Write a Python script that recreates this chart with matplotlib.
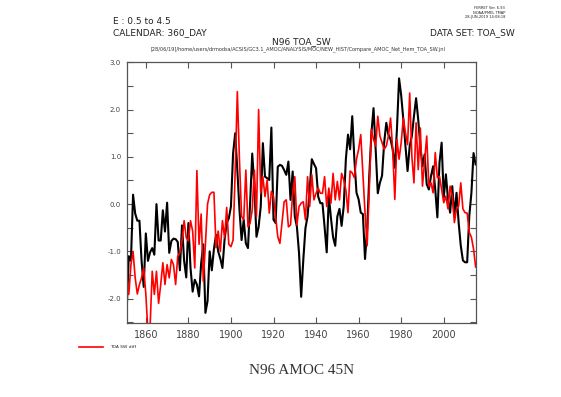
import matplotlib
matplotlib.use("Agg")
import matplotlib.pyplot as plt
import numpy as np

years = np.arange(1851, 2016)

# AMOC 45N (black)
amoc = [
    -2.25, -1.1, -1.2, 0.2, -0.2, -0.35, -0.35, -1.2, -1.75, -0.62,
    -1.2, -1.02, -0.93, -1.07, 0.0, -0.77, -0.77, -0.13, -0.58, 0.03,
    -1.03, -0.78, -0.73, -0.74, -0.8, -1.4, -0.45, -1.2, -1.55, -0.4,
    -1.35, -1.85, -1.6, -1.7, -1.95, -1.25, -0.85, -2.3, -2.05, -1.0,
    -1.4, -0.95, -0.65, -1.0, -1.15, -1.35, -0.75, -0.4, -0.3, -0.05,
    1.07, 1.5, 0.72, -0.12, -0.76, -0.33, -0.83, -0.93, 0.02, 1.07,
    0.37, -0.69, -0.48, -0.05, 1.29, 0.58, 0.55, 0.51, 1.62, -0.33,
    -0.4, 0.79, 0.83, 0.81, 0.72, 0.62, 0.9, 0.09, 0.69, -0.26,
    -0.48, -1.04, -1.96, -1.18, -0.51, -0.26, 0.3, 0.95, 0.85, 0.76,
    0.16, 0.02, 0.02, -0.48, -1.02, 0.17, -0.3, -0.7, -0.88, -0.26,
    -0.1, -0.46, -0.04, 0.95, 1.47, 1.16, 1.86, 0.95, 0.24, 0.1,
    -0.18, -0.21, -1.16, -0.53, 0.6, 1.5, 2.03, 1.16, 0.23, 0.45,
    0.6, 1.3, 1.72, 1.47, 1.37, 1.16, 0.77, 1.58, 2.66, 2.3,
    1.79, 1.23, 0.7, 1.23, 1.44, 1.86, 2.24, 1.79, 1.23, 0.8,
    1.05, 0.42, 0.31, 0.59, 0.8, 0.31, -0.28, 0.88, 1.3, 0.14,
    0.63, 0.1, -0.18, 0.38, -0.25, 0.24, -0.39, -0.88, -1.19, -1.23,
    -1.23, -0.25, 0.24, 1.08, 0.84,
]

# TOA SW diff (red)
toa_sw = [
    -1.56, -1.91, -1.28, -1.0, -1.56, -1.9, -1.7, -1.56, -1.35, -1.9,
    -2.7, -2.6, -1.42, -1.91, -1.42, -2.1, -1.7, -1.24, -1.7, -1.28,
    -1.56, -1.17, -1.28, -1.7, -1.1, -1.03, -0.78, -0.35, -0.71, -0.78,
    -0.35, -0.57, -1.35, 0.71, -0.85, -0.21, -1.63, -0.85, 0.0, 0.2,
    0.25, 0.25, -0.92, -0.57, -1.0, -0.35, -0.71, -0.07, -0.85, -0.9,
    -0.76, 0.71, 2.38, 0.93, -0.26, -0.33, 0.72, -0.48, -0.4, -0.12,
    0.72, -0.26, 2.0, 0.23, 0.58, 0.16, 0.51, -0.19, 0.27, 0.16,
    -0.26, -0.69, -0.83, -0.4, 0.05, 0.09, -0.48, -0.44, 0.23, 0.58,
    -0.44, -0.05, 0.02, 0.05, -0.33, 0.58, -0.05, 0.62, 0.09, 0.23,
    0.34, 0.23, 0.23, 0.58, -0.05, 0.34, 0.02, 0.65, 0.09, 0.48,
    0.09, 0.65, 0.51, 0.3, -0.18, 0.7, 0.66, 0.56, 0.95, 1.16,
    1.47, 0.66, -0.18, -0.88, 0.31, 1.58, 1.37, 1.23, 1.86, 1.44,
    1.3, 1.16, 1.23, 1.44, 1.82, 1.16, 0.1, 1.37, 0.95, 1.3,
    1.82, 1.51, 1.26, 2.35, 1.02, 0.45, 1.72, 0.73, 1.61, 0.38,
    0.91, 1.44, 0.38, 0.45, 0.24, 1.09, 0.56, 0.59, 0.31, 0.03,
    0.17, -0.1, 0.38, 0.17, -0.39, -0.1, -0.04, 0.45, -0.1, -0.18,
    -0.19, -0.6, -0.7, -0.95, -1.33,
]

xticks = [1860, 1880, 1900, 1920, 1940, 1960, 1980, 2000]
yticks = [-2.0, -1.0, 0.0, 1.0, 2.0, 3.0]

fig = plt.figure(figsize=(5.61, 3.97), dpi=100)
ax = fig.add_axes([0.2258, 0.1857, 0.6221, 0.6574])

ax.plot(years, amoc, color="black", linewidth=1.5)
ax.plot(years, toa_sw, color="red", linewidth=1.2)

ax.set_xlim(1851, 2015)
ax.set_ylim(-2.52, 3.0)
ax.set_xticks(xticks)
ax.set_xticklabels([str(y) for y in xticks])
ax.set_yticks(yticks)
ax.set_yticklabels(["%.1f" % v for v in yticks])
ax.set_yticks(np.arange(-2.5, 3.01, 0.5), minor=True)

gray = "#555555"
for s in ax.spines.values():
    s.set_color(gray)
    s.set_linewidth(0.9)
ax.tick_params(axis="both", which="both", direction="in", colors=gray,
               top=True, right=True, length=4, width=0.8)
ax.tick_params(axis="x", labelsize=7, pad=5, labelcolor="#444444")
ax.tick_params(axis="y", labelsize=5, pad=4, labelcolor="#444444")

ax.set_xlabel("N96 AMOC 45N", family="Liberation Serif", fontsize=11,
              color="#333333", labelpad=17)

# header texts
fig.text(113 / 561, 1 - 22 / 397, "E : 0.5 to 4.5", fontsize=6.5, color="#222222", va="center")
fig.text(113 / 561, 1 - 33 / 397, "CALENDAR: 360_DAY", fontsize=6.5, color="#222222", va="center")
fig.text(515 / 561, 1 - 33 / 397, "DATA SET: TOA_SW", fontsize=6.5, color="#222222",
         va="center", ha="right")
fig.text(301 / 561, 1 - 42 / 397, "N96 TOA_SW", fontsize=6.5, color="#222222",
         va="center", ha="center")
fig.text(298 / 561, 1 - 49.5 / 397,
         "[28/06/19]/home/users/drmodsa/ACSIS/GC3.1_AMOC/ANALYSIS/MOC/NEW_HIST/Compare_AMOC_Net_Hem_TOA_SW.jnl",
         fontsize=3.6, color="#333333", va="center", ha="center")
fig.text(505 / 561, 1 - 6 / 397, "FERRET Ver. 6.93\nNOAA/PMEL TMAP\n28-JUN-2019 14:08:18",
         fontsize=2.6, color="#222222", va="top", ha="right", linespacing=1.2)

# legend entry
fig.lines.append(plt.Line2D([79 / 561, 103 / 561], [1 - 347 / 397, 1 - 347 / 397],
                            color="red", linewidth=1.2, transform=fig.transFigure))
fig.text(110 / 561, 1 - 347 / 397, "TOA SW diff", fontsize=3.2, color="#222222", va="center")

fig.savefig("out.png", dpi=100)
